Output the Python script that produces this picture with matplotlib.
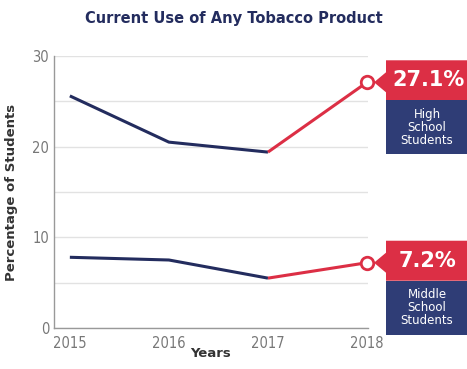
import matplotlib.pyplot as plt
from matplotlib.patches import Polygon, Rectangle

years = [2015, 2016, 2017, 2018]
high_school = [25.6, 20.5, 19.4, 27.1]
middle_school = [7.8, 7.5, 5.5, 7.2]
labels = ["27.1%", "7.2%"]
groups = ["High\nSchool\nStudents", "Middle\nSchool\nStudents"]

navy = '#232c5e'
red = '#dc2f45'
box_navy = '#2f3d76'

fig = plt.figure(figsize=(4.67, 3.69), dpi=100)
ax = fig.add_axes([54/467, 1-328/369, (368-54)/467, (328-56)/369])

for vals in (high_school, middle_school):
    ax.plot(years[:3], vals[:3], color=navy, lw=2.2, solid_capstyle='butt')
    ax.plot(years[2:], vals[2:], color=red, lw=2.2, solid_capstyle='butt')
    ax.plot(years[3], vals[3], 'o', ms=9, mfc='white', mec=red, mew=2, clip_on=False, zorder=5)

ax.set_xlim(2014.84, 2018.01)
ax.set_ylim(0, 30)
ax.set_yticks([0, 10, 20, 30])
ax.set_yticks([5, 15, 25], minor=True)
ax.grid(True, which='both', axis='y', color='#e2e2e2', lw=1)
ax.set_axisbelow(True)
ax.set_xticks(years)
ax.tick_params(axis='both', which='both', length=0, colors='#777777', labelsize=10.5)
for t in ax.get_xticklabels() + ax.get_yticklabels():
    t.set_fontstretch('condensed')
ax.tick_params(axis='x', pad=6)
for s in ['top', 'right']:
    ax.spines[s].set_visible(False)
for s in ['left', 'bottom']:
    ax.spines[s].set_color('#999999')
    ax.spines[s].set_linewidth(1)

ax.set_xlabel('Years', fontsize=9.5, fontweight='bold', color='#333333', labelpad=-3)
ax.set_ylabel('Percentage of Students', fontsize=9.5, fontweight='bold', color='#333333', labelpad=10)
fig.text(0.5, 1-18/369, 'Current Use of Any Tobacco Product', ha='center', va='center',
         fontsize=10.5, fontweight='bold', color=navy)

# callout boxes, positioned in figure pixels
W, H = 467, 369
def px(x, y):
    return (x / W, 1 - y / H)

for val, lab, grp in zip([high_school[3], middle_school[3]], labels, groups):
    yc = H - ax.transData.transform((2018, val))[1]
    top, mid, bot = yc - 22, yc + 18, yc + 72
    left = 386
    fig.patches.append(Polygon([px(left, top), px(467, top), px(467, mid), px(left, mid),
                                px(left, yc + 10), px(374, yc), px(left, yc - 10)],
                               closed=True, transform=fig.transFigure, fc=red, ec='none'))
    fig.patches.append(Rectangle(px(left, bot), (467 - left) / W, (bot - mid) / H,
                                 transform=fig.transFigure, fc=box_navy, ec='none'))
    fig.text(*px(428, (top + mid) / 2), lab, ha='center', va='center', color='white',
             fontsize=15, fontweight='bold')
    fig.text(*px(427, (mid + bot) / 2), grp, ha='center', va='center', color='white',
             fontsize=8.5, linespacing=1.0)

fig.savefig('out.png', dpi=100)
